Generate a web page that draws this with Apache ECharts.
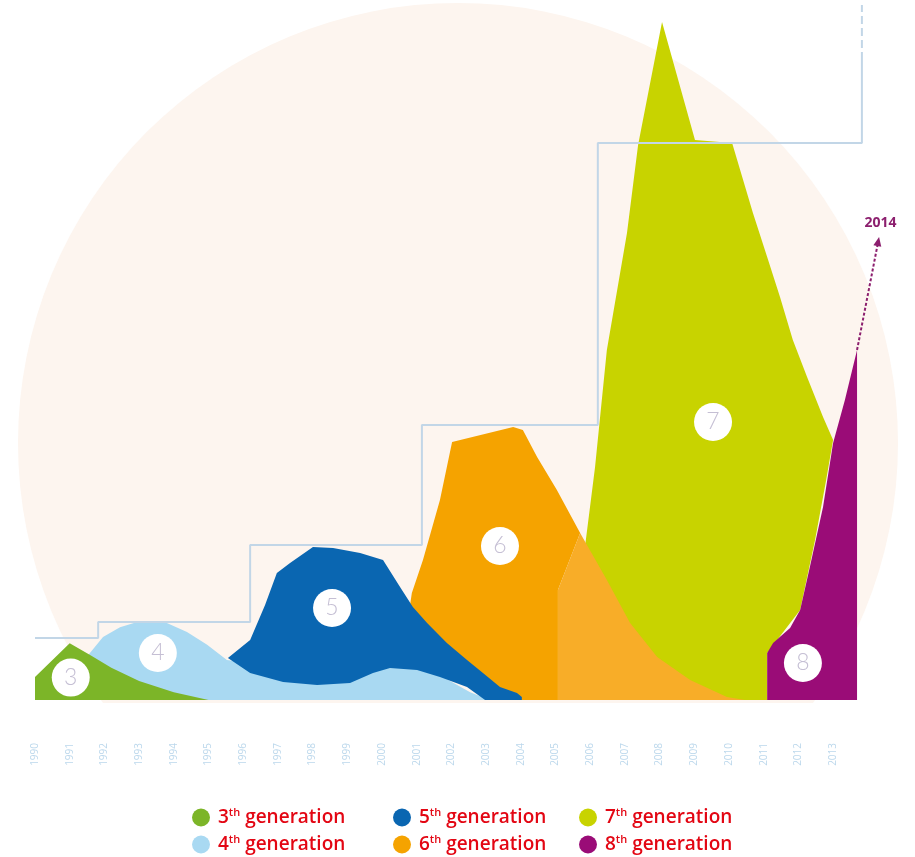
<!DOCTYPE html>
<html>
<head>
<meta charset="utf-8">
<script src="https://cdn.jsdelivr.net/npm/echarts@6/dist/echarts.min.js"></script>
<style>html,body{margin:0;padding:0;background:#fff;}#c{width:915px;height:857px;}</style>
</head>
<body>
<div id="c"></div>
<script>
// ---- data (x = year, y = relative units) ----
const tickLabels = ['1990','1991','1992','1993','1994','1995','1996','1997','1998','1999','2000','2001','2002','2003','2004','2005','2006','2007','2008','2009','2010','2011','2012','2013'];
const seriesNames = ['3th generation','4th generation','5th generation','6th generation','7th generation','8th generation'];
const gen3 = [[1990,0],[1990,3.3],[1991.0,8.1],[1991.6,6.4],[1992.2,4.6],[1993.0,2.7],[1994.0,1.1],[1995.0,0]];
const gen4 = [[1991.53,0],[1991.53,6.4],[1991.96,9.0],[1992.45,10.4],[1992.85,11.0],[1993.23,11.2],[1993.8,11.0],[1994.38,9.7],[1994.96,7.9],[1995.53,5.7],[1996.48,5.1],[2001.1,5.1],[2001.82,3.1],[2002.54,1.1],[2003.11,0]];
const gen5 = [[1995.56,6.0],[1996.2,8.57],[1996.63,13.57],[1996.97,18.14],[1997.35,19.57],[1998.01,21.86],[1998.59,21.71],[1999.37,21.0],[2000.03,20.0],[2000.52,16.14],[2000.89,13.29],[2001.3,11.0],[2001.87,8.14],[2002.45,5.71],[2002.91,3.86],[2003.4,1.86],[2003.89,1.0],[2004.03,0.43],[2004.03,0],[2002.97,0],[2002.45,1.86],[2001.67,3.29],[2001.01,4.29],[2000.23,4.57],[1999.74,3.86],[1999.08,2.43],[1998.13,2.14],[1997.15,2.57],[1996.2,3.86]];
const gen6 = [[2000.86,15.29],[2001.18,20.0],[2001.67,28.57],[2002.02,36.86],[2003.78,39.0],[2004.06,38.57],[2004.47,34.71],[2005.04,30.0],[2005.71,23.86],[2005.07,15.71],[2005.07,0],[2003.1,0],[2000.66,8.57]];
const gen6Tail = [[2005.07,15.71],[2005.71,23.86],[2006.48,17.14],[2007.15,11.0],[2007.93,6.14],[2008.88,2.86],[2009.94,0.43],[2010.46,0],[2005.07,0]];
const gen7 = [[2005.56,0],[2005.82,20.71],[2006.14,33.29],[2006.48,50],[2007.06,66.71],[2007.38,79.29],[2008.07,96.86],[2009.02,80],[2010.09,79.57],[2010.69,69.57],[2011.1,63.29],[2011.47,57.57],[2011.84,51.43],[2012.25,46.14],[2012.71,40.43],[2013.0,37.14],[2012.8,31.43],[2012.48,22.86],[2012.05,12.86],[2011.1,6.71],[2011.1,0]];
const gen8 = [[2011.1,0],[2011.1,6.71],[2011.27,8.14],[2011.76,10.29],[2012.05,12.86],[2012.33,19.0],[2012.71,27.57],[2013.0,36.71],[2013.34,42.86],[2013.69,50],[2013.69,0]];
const stepLine = [[1990,8.86],[1991.82,11.14],[1996.2,22.14],[2001.15,39.29],[2006.22,79.57],[2013.83,91.43]];
const stepDash = [[2013.83,91.43],[2013.83,99.3]];
const circleLabels = ['3','4','5','6','7','8'];
const circlePos = [[1991.03,3.2],[1993.54,6.71],[1998.56,13.14],[2003.4,22.0],[2009.54,39.71],[2012.13,5.29]];
const arrowLine = [[2013.69,50],[2014.3,65.5]];
const arrowText = '2014';

// ---- styling ----
const colors = {g3:'#7cb528', g4:'#a9d9f2', g5:'#0a66b1', g6:'#f5a300', g6t:'#f8ad28', g7:'#c8d300', g8:'#9a0c77'};

function polyRender(points, tail, tailColor) {
  return function (params, api) {
    if (params.dataIndex !== 0) return null;
    const children = [{type:'polygon', shape:{points: points.map(p => api.coord(p))}, style:{fill: api.visual('color')}}];
    if (tail) children.push({type:'polygon', shape:{points: tail.map(p => api.coord(p))}, style:{fill: tailColor}});
    return {type:'group', children: children};
  };
}
function polySeries(name, pts, color, tail, tailColor) {
  return {type:'custom', name: name, data: pts, encode:{x:0,y:1}, itemStyle:{color: color},
    renderItem: polyRender(pts, tail, tailColor), silent: true, clip: false};
}

const legendText = {
  fontFamily: 'Open Sans', color: '#e30613',
  rich: {
    n: {fontSize: 19, fontWeight: 600, color: '#e30613', fontFamily: 'Open Sans', lineHeight: 24},
    s: {fontSize: 11, fontWeight: 600, color: '#e30613', fontFamily: 'Open Sans', padding: [0,0,10,0], lineHeight: 24},
    g: {fontSize: 19, fontWeight: 600, color: '#e30613', fontFamily: 'Open Sans', lineHeight: 24}
  }
};
function legendFmt(name) {
  return '{n|' + name.charAt(0) + '}{s|th}{g| generation}';
}
function mkLegend(left, top, name) {
  return {left: left, top: top, padding: 0, itemWidth: 24, itemHeight: 18, icon: 'circle',
    data: [name], formatter: legendFmt, textStyle: legendText, selectedMode: false};
}

const chart = echarts.init(document.getElementById('c'));
chart.setOption({
  animation: false,
  backgroundColor: '#ffffff',
  graphic: [
    {type:'circle', z: -10, shape:{cx: 458, cy: 443, r: 440}, style:{fill:'#fdf5ef'}, silent: true},
    {type:'rect', z: -9, shape:{x: 0, y: 703, width: 880, height: 160}, style:{fill:'#ffffff'}, silent: true}
  ],
  legend: [
    mkLegend(192, 807, seriesNames[0]),
    mkLegend(192, 834, seriesNames[1]),
    mkLegend(393, 807, seriesNames[2]),
    mkLegend(393, 834, seriesNames[3]),
    mkLegend(579, 807, seriesNames[4]),
    mkLegend(579, 834, seriesNames[5])
  ],
  grid: {left: 35, right: 12.5, top: 0, bottom: 157, containLabel: false},
  xAxis: {type:'value', min: 1990, max: 2015, interval: 1,
    axisLine:{show:false}, axisTick:{show:false}, splitLine:{show:false},
    axisLabel:{show:true, rotate: 90, margin: 43, fontSize: 10, color:'#bcd8ec', fontFamily:'Open Sans',
      formatter: function (v) { const i = Math.round(v) - 1990; return tickLabels[i] || ''; }}},
  yAxis: {type:'value', min: 0, max: 100, show: false},
  series: [
    polySeries(seriesNames[4], gen7, colors.g7),
    polySeries(seriesNames[3], gen6, colors.g6, gen6Tail, colors.g6t),
    polySeries(seriesNames[1], gen4, colors.g4),
    polySeries(seriesNames[2], gen5, colors.g5),
    polySeries(seriesNames[0], gen3, colors.g3),
    polySeries(seriesNames[5], gen8, colors.g8),
    {type:'line', data: stepLine, step:'end', symbol:'none', silent:true, clip:false,
      lineStyle:{color:'#c2d6e7', width: 2}, z: 3},
    {type:'line', data: stepDash, symbol:'none', silent:true, clip:false,
      lineStyle:{color:'#c2d6e7', width: 2, type:'dashed'}, z: 3,
      markLine: {silent: true, symbol:['none','triangle'], symbolSize: [8, 9],
        lineStyle:{color:'#8c1f6e', width: 2, type:[3,2]},
        label:{show:true, position:'end', formatter: arrowText, color:'#8c1f6e', fontSize: 14, fontWeight: 'bold', fontFamily:'Open Sans', distance: 12},
        data: [[{coord: arrowLine[0]}, {coord: arrowLine[1]}]]}},
    {type:'scatter', symbol:'circle', symbolSize: 38, silent: true, z: 5,
      itemStyle:{color:'#ffffff', opacity: 1},
      data: circlePos.map((p, i) => ({value: p, label:{formatter: circleLabels[i]}})),
      label:{show:true, position:'inside', color:'#c5bfd4', fontSize: 23, fontFamily:'Lato', fontWeight: 300}}
  ]
});
</script>
</body>
</html>
